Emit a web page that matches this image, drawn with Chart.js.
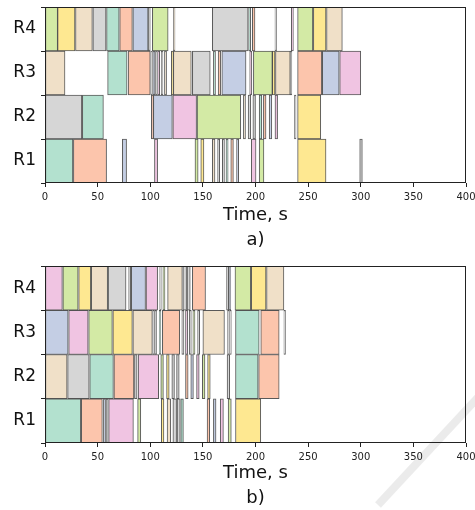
<!DOCTYPE html>
<html><head><meta charset="utf-8">
<script src="https://cdn.jsdelivr.net/npm/chart.js@4/dist/chart.umd.min.js"></script>
<style>
html,body{margin:0;padding:0;background:#fff;overflow:hidden;width:475px;height:510px;}
#ca{position:absolute;left:0;top:0;}
#cb{position:absolute;left:0;top:255px;}
</style></head><body>
<canvas id="ca" width="475" height="255"></canvas>
<canvas id="cb" width="475" height="258"></canvas>
<script>
// ---- data ----
const resources = ['R4', 'R3', 'R2', 'R1'];
const xTickValues = [0, 50, 100, 150, 200, 250, 300, 350, 400];
// task colour classes: 0 teal,1 salmon,2 blue,3 pink,4 green,5 yellow,6 beige,7 grey
const taskColors = ['#b3e1cf', '#fcc5ac', '#c4cee4', '#f0c4e2', '#d3eaa5', '#fee891', '#f0e0c8', '#d6d6d6'];

// chart a) intervals [start, end, task class]
const aR4 = [[0,12,4],[12,28.5,5],[29,45,6],[45.5,58,7],[58.5,70.5,0],[71,83,1],[83.5,98,2],[98,100,7],[102,117,4],[122,123.5,6],[159,193,7],[193.5,195.5,0],[197,199.5,1],[218.5,220,7],[234,236,3],[240,254.5,4],[255,267,5],[267.5,282.5,6]];
const aR3 = [[0,19,6],[59.5,78,0],[79,100,1],[100.5,102,7],[102.5,104.5,2],[105,106.5,7],[107,109,3],[110.5,112,7],[113.5,115.5,6],[120,122,5],[122,139,6],[140,157,7],[160,162,0],[164.5,167,1],[168,191,2],[194.5,196.5,3],[198,216,4],[216,218.5,5],[219,233,6],[233,234.5,7],[240,263,1],[263.5,279.5,2],[280,300,3]];
const aR2 = [[0,35,7],[35.5,55.5,0],[101,103,1],[103,121,2],[121.5,144,3],[144.5,186,4],[188.5,190.5,6],[193,195.5,7],[197.5,200,7],[203.5,206,0],[207.5,210,1],[213,215.5,2],[218.5,221,3],[237,238.5,7],[240,262,5]];
const aR1 = [[0,26.5,0],[27,58.5,1],[73.5,77.5,2],[104,107,3],[142.5,145.5,4],[148,151,5],[159,161.5,6],[164,166,7],[168.5,170.5,7],[172,174,0],[176.5,179,1],[182,184,2],[196,200.5,3],[203.5,208,4],[240,267,5],[299,301.5,7]];

// chart b) intervals [start, end, task class]
const bR4 = [[0,16.5,3],[17,31.5,4],[32,43.5,5],[44,59.5,6],[60,77,7],[79.5,81.5,7],[82,95.5,2],[96,107,3],[109,110.5,7],[112,114,4],[116.5,130.5,6],[131,134.5,7],[135,138,7],[140,152.5,1],[172.5,174.5,7],[175,176.5,2],[180.5,195.5,4],[196,210,5],[210.5,227,6]];
const bR3 = [[0,22,2],[22.5,41,3],[41.5,64,4],[64.5,83,5],[83.5,102,6],[102.5,104,7],[104.5,106,7],[108.5,110,0],[111.5,128,1],[130,132,7],[133.5,135.5,3],[137,139,7],[140.5,142.5,4],[145,147,7],[150,170.5,6],[173.5,175,7],[175.5,177,7],[181,203.5,0],[205,222.5,1],[227,228.5,7]];
const bR2 = [[0,21,6],[21.5,42,7],[42.5,65,0],[65.5,84.5,1],[85,87.5,7],[88.5,108,3],[110,112.5,4],[115.5,118,5],[120.5,123,7],[125,127.5,7],[133.5,136,1],[138.5,141,2],[144,146.5,3],[149.5,152,4],[154.5,157,5],[173,175.5,7],[181,202.5,0],[203,222.5,1]];
const bR1 = [[0,34,0],[34.5,54.5,1],[55.5,57.5,2],[58,60,7],[60.5,84,3],[88,91,4],[110.5,113,5],[116,119.5,6],[121.5,125,7],[125.5,128.5,7],[129,131.5,0],[154,156.5,1],[160,162.5,2],[166.5,169.5,3],[174,177,4],[181,205,5]];

const xTitleA = ['Time, s', 'a)'];
const xTitleB = ['Time, s', 'b)'];

// ---- build ----
const FONT = "'DejaVu Sans', sans-serif";

function buildDataset(rows) {
  const data = [], colors = [];
  rows.forEach((row, ri) => {
    row.forEach(([s, e, c]) => {
      data.push({ x: [s, e], y: resources[ri] });
      colors.push(taskColors[c]);
    });
  });
  return {
    data,
    backgroundColor: colors,
    borderColor: 'rgba(60,60,60,0.85)',
    borderWidth: 1,
    borderSkipped: false,
    grouped: false,
    barPercentage: 1,
    categoryPercentage: 1
  };
}

const framePlugin = {
  id: 'frame',
  afterDraw(chart) {
    const { ctx, chartArea: a } = chart;
    ctx.save();
    ctx.strokeStyle = '#222';
    ctx.lineWidth = 1;
    ctx.strokeRect(Math.round(a.left) + 0.5, Math.round(a.top) + 0.5,
      Math.round(a.right - a.left) - 1, Math.round(a.bottom - a.top) - 1);
    ctx.restore();
  }
};

const watermarkPlugin = {
  id: 'watermark',
  beforeDraw(chart, args, opts) {
    if (!opts || !opts.on) return;
    const ctx = chart.ctx;
    ctx.save();
    ctx.strokeStyle = 'rgba(0,0,0,0.08)';
    ctx.lineWidth = 8;
    ctx.beginPath();
    ctx.moveTo(482, 138);
    ctx.lineTo(378, 250);
    ctx.stroke();
    ctx.restore();
  }
};

function makeChart(id, rows, title, topPad, xHeight, wm) {
  return new Chart(document.getElementById(id), {
    type: 'bar',
    data: { labels: resources, datasets: [buildDataset(rows)] },
    options: {
      indexAxis: 'y',
      responsive: false,
      animation: false,
      layout: { padding: { left: 0, right: 9, top: topPad, bottom: 0 } },
      plugins: { legend: { display: false }, tooltip: { enabled: false }, watermark: { on: wm } },
      scales: {
        x: {
          type: 'linear', min: 0, max: 400,
          afterBuildTicks: s => { s.ticks = xTickValues.map(v => ({ value: v })); },
          afterFit: s => { s.height = xHeight; s.paddingLeft = 0; s.paddingRight = 0; },
          ticks: { color: '#222', font: { family: FONT, size: 10 }, padding: 4, maxRotation: 0 },
          grid: { drawOnChartArea: false, drawTicks: true, tickLength: 4, tickColor: '#222' },
          border: { display: false },
          title: { display: true, text: title, color: '#111', font: { family: FONT, size: 18, lineHeight: 1.39 }, padding: { top: 2, bottom: 2 } }
        },
        y: {
          type: 'category',
          afterFit: s => { s.width = 45; s.paddingTop = 0; s.paddingBottom = 0; },
          ticks: { color: '#111', font: { family: FONT, size: 17 }, padding: 5 },
          grid: { drawOnChartArea: false, drawTicks: true, tickLength: 4, tickColor: '#222', offset: true },
          border: { display: false }
        }
      }
    },
    plugins: [framePlugin, watermarkPlugin]
  });
}

makeChart('ca', [aR4, aR3, aR2, aR1], xTitleA, 7, 72, false);
makeChart('cb', [bR4, bR3, bR2, bR1], xTitleB, 11, 70, true);
</script>
</body></html>
